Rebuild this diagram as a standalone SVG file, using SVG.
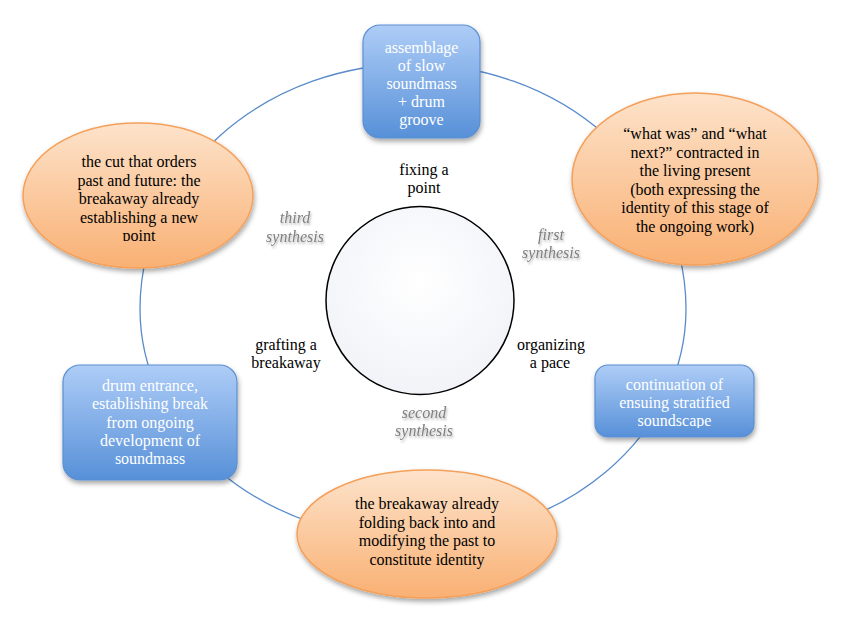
<svg xmlns="http://www.w3.org/2000/svg" width="850" height="628" viewBox="0 0 850 628">
  <defs>
    <linearGradient id="gBlue" x1="0" y1="0" x2="0" y2="1">
      <stop offset="0" stop-color="#aecdf7"/>
      <stop offset="1" stop-color="#5790d8"/>
    </linearGradient>
    <linearGradient id="gOrange" x1="0" y1="0" x2="0" y2="1">
      <stop offset="0" stop-color="#fde3cb"/>
      <stop offset="1" stop-color="#f9b073"/>
    </linearGradient>
    <radialGradient id="gCircle" cx="0.5" cy="0.4" r="0.6">
      <stop offset="0" stop-color="#ffffff"/>
      <stop offset="1" stop-color="#f1f3f8"/>
    </radialGradient>
    <filter id="shadow" x="-20%" y="-20%" width="140%" height="150%">
      <feDropShadow dx="1" dy="3" stdDeviation="2.5" flood-color="#000" flood-opacity="0.35"/>
    </filter>
    <filter id="tshadow" x="-20%" y="-30%" width="140%" height="170%">
      <feDropShadow dx="1" dy="2" stdDeviation="1.2" flood-color="#000" flood-opacity="0.3"/>
    </filter>
    <clipPath id="clipLeft"><rect x="0" y="0" width="850" height="241"/></clipPath>
    <clipPath id="clipRight"><rect x="0" y="0" width="850" height="428"/></clipPath>
  </defs>
  <style>
    .box { fill: url(#gBlue); stroke: #5b8fd1; stroke-width: 1.2; filter: url(#shadow); }
    .ell { fill: url(#gOrange); stroke: #f5a05a; stroke-width: 1.5; filter: url(#shadow); }
    .wt { font-family: "Liberation Serif", "Times New Roman", serif; font-size: 16px; fill: #ffffff; text-anchor: middle; }
    .bt { font-family: "Liberation Serif", "Times New Roman", serif; font-size: 16px; fill: #000000; text-anchor: middle; }
    .gt { font-family: "Liberation Serif", "Times New Roman", serif; font-size: 16px; font-style: italic; fill: #808080; text-anchor: middle; filter: url(#tshadow); }
    .ring { fill: none; stroke: #5a8ccc; stroke-width: 1.3; }
  </style>
  <rect x="0" y="0" width="850" height="628" fill="#ffffff"/>

  <g id="connectors">
    <path class="ring" d="M 140 309 A 273 245 0 0 1 686 309 A 273 230 0 0 1 140 309 Z"/>
  </g>

  <g id="center">
    <circle cx="420" cy="300.5" r="94" fill="url(#gCircle)" stroke="#000" stroke-width="1.5"/>
  </g>

  <g id="labels">
    <text class="bt" x="424" y="175">fixing a</text>
    <text class="bt" x="424" y="193">point</text>
    <text class="bt" x="551" y="350">organizing</text>
    <text class="bt" x="550" y="368">a pace</text>
    <text class="bt" x="286" y="350">grafting a</text>
    <text class="bt" x="286" y="368">breakaway</text>
    <text class="gt" x="551" y="240">first</text>
    <text class="gt" x="551" y="258">synthesis</text>
    <text class="gt" x="424" y="418">second</text>
    <text class="gt" x="424" y="436">synthesis</text>
    <text class="gt" x="295" y="223">third</text>
    <text class="gt" x="295" y="242">synthesis</text>
  </g>

  <g id="node-top">
    <rect class="box" x="363" y="25" width="117" height="113" rx="17"/>
    <text class="wt" x="421.5" y="52.5">assemblage</text>
    <text class="wt" x="421.5" y="71">of slow</text>
    <text class="wt" x="421.5" y="89">soundmass</text>
    <text class="wt" x="421.5" y="107">+ drum</text>
    <text class="wt" x="421.5" y="125">groove</text>
  </g>

  <g id="node-right-ellipse">
    <ellipse class="ell" cx="695" cy="179" rx="123" ry="86"/>
    <text class="bt" x="695" y="139">“what was” and “what</text>
    <text class="bt" x="695" y="157.5">next?” contracted in</text>
    <text class="bt" x="695" y="176">the living present</text>
    <text class="bt" x="695" y="194.5">(both expressing the</text>
    <text class="bt" x="695" y="213">identity of this stage of</text>
    <text class="bt" x="695" y="231.5">the ongoing work)</text>
  </g>

  <g id="node-right-box">
    <rect class="box" x="595" y="365" width="159" height="72" rx="13"/>
    <g clip-path="url(#clipRight)">
      <text class="wt" x="674.5" y="390">continuation of</text>
      <text class="wt" x="674.5" y="408">ensuing stratified</text>
      <text class="wt" x="674.5" y="426">soundscape</text>
    </g>
  </g>

  <g id="node-bottom">
    <ellipse class="ell" cx="427" cy="534" rx="130" ry="64"/>
    <text class="bt" x="427" y="509">the breakaway already</text>
    <text class="bt" x="427" y="527.5">folding back into and</text>
    <text class="bt" x="427" y="546">modifying the past to</text>
    <text class="bt" x="427" y="564.5">constitute identity</text>
  </g>

  <g id="node-left-box">
    <rect class="box" x="63" y="365" width="174" height="115" rx="17"/>
    <text class="wt" x="150" y="391">drum entrance,</text>
    <text class="wt" x="150" y="409">establishing break</text>
    <text class="wt" x="150" y="427.5">from ongoing</text>
    <text class="wt" x="150" y="446">development of</text>
    <text class="wt" x="150" y="464">soundmass</text>
  </g>

  <g id="node-left-ellipse">
    <ellipse class="ell" cx="138" cy="195.5" rx="115" ry="72.5"/>
    <g clip-path="url(#clipLeft)">
      <text class="bt" x="139" y="167">the cut that orders</text>
      <text class="bt" x="139" y="185.5">past and future: the</text>
      <text class="bt" x="139" y="204">breakaway already</text>
      <text class="bt" x="139" y="222.5">establishing a new</text>
      <text class="bt" x="139" y="241">point</text>
    </g>
  </g>
</svg>
